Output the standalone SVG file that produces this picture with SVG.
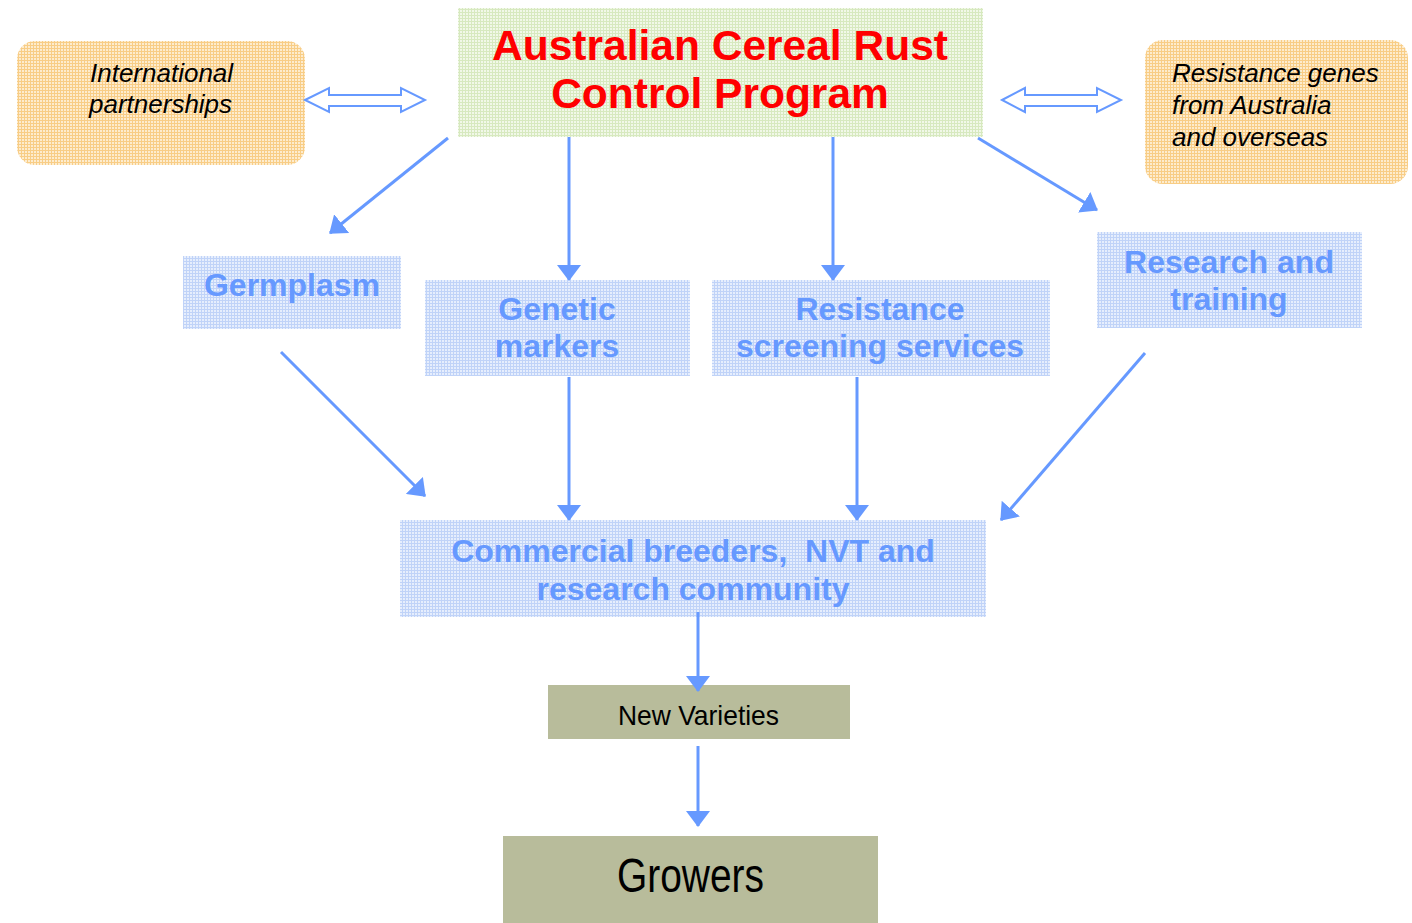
<svg xmlns="http://www.w3.org/2000/svg" width="1412" height="923" viewBox="0 0 1412 923">
<defs>
<pattern id="pBlue" width="3" height="3" patternUnits="userSpaceOnUse"><rect width="3" height="3" fill="#e6eefd"/><rect width="1" height="3" fill="#c0d3f8"/><rect width="3" height="1" fill="#c0d3f8"/></pattern>
<pattern id="pGreen" width="3" height="3" patternUnits="userSpaceOnUse"><rect width="3" height="3" fill="#f1f8e8"/><rect width="1" height="3" fill="#d7e9bf"/><rect width="3" height="1" fill="#d7e9bf"/></pattern>
<pattern id="pOrange" width="3" height="3" patternUnits="userSpaceOnUse"><rect width="3" height="3" fill="#fdecce"/><rect width="1" height="3" fill="#f8cd86"/><rect width="3" height="1" fill="#f8cd86"/></pattern>
<marker id="ah" viewBox="0 0 16 24" refX="15" refY="12" markerWidth="16" markerHeight="24" markerUnits="userSpaceOnUse" orient="auto"><path d="M0,0 L16,12 L0,24 z" fill="#6699ff"/></marker>
</defs>
<style>
.conn{stroke:#6699ff;stroke-width:3;fill:none;marker-end:url(#ah)}
.dbl{stroke:#6699ff;stroke-width:2;fill:#fff}
.bt{font-family:"Liberation Sans",Arial,sans-serif;font-weight:bold;font-size:32px;fill:#6699ff;text-anchor:middle}
.it{font-family:"Liberation Sans",Arial,sans-serif;font-style:italic;font-size:26px;fill:#000}
.title{font-family:"Liberation Sans",Arial,sans-serif;font-weight:bold;font-size:42.5px;fill:#ff0000;text-anchor:middle}
.olive{fill:#b8bc9b}
.nar{font-family:"Liberation Sans",Arial,sans-serif;fill:#000;text-anchor:middle}
</style>
<rect width="1412" height="923" fill="#fff"/>

<g id="intl">
<rect x="17" y="41" width="288" height="124" rx="18" fill="url(#pOrange)"/>
<text class="it" x="90" y="82">International</text>
<text class="it" x="89" y="113">partnerships</text>
</g>

<g id="genes">
<rect x="1145" y="40" width="263" height="144" rx="18" fill="url(#pOrange)"/>
<text class="it" x="1172" y="82">Resistance genes</text>
<text class="it" x="1172" y="114">from Australia</text>
<text class="it" x="1172" y="146">and overseas</text>
</g>

<g id="acrcp">
<rect x="458" y="8" width="525" height="129" fill="url(#pGreen)"/>
<text class="title" x="720" y="60">Australian Cereal Rust</text>
<text class="title" x="720" y="108">Control Program</text>
</g>

<g id="germplasm">
<rect x="183" y="256" width="218" height="73" fill="url(#pBlue)"/>
<text class="bt" x="292" y="296">Germplasm</text>
</g>

<g id="markers">
<rect x="425" y="280" width="265" height="96" fill="url(#pBlue)"/>
<text class="bt" x="557" y="320">Genetic</text>
<text class="bt" x="557" y="357">markers</text>
</g>

<g id="screening">
<rect x="712" y="280" width="338" height="96" fill="url(#pBlue)"/>
<text class="bt" x="880" y="320">Resistance</text>
<text class="bt" x="880" y="357">screening services</text>
</g>

<g id="research">
<rect x="1097" y="232" width="265" height="96" fill="url(#pBlue)"/>
<text class="bt" x="1229" y="273">Research and</text>
<text class="bt" x="1229" y="310">training</text>
</g>

<g id="breeders">
<rect x="400" y="520" width="586" height="97" fill="url(#pBlue)"/>
<text class="bt" x="693" y="562" xml:space="preserve">Commercial breeders,  NVT and</text>
<text class="bt" x="693" y="600">research community</text>
</g>

<g id="varieties">
<rect class="olive" x="548" y="685" width="302" height="54"/>
<text class="nar" x="698.5" y="725" font-size="28" textLength="161" lengthAdjust="spacingAndGlyphs">New Varieties</text>
</g>

<g id="growers">
<rect class="olive" x="503" y="836" width="375" height="87"/>
<text class="nar" x="690.5" y="892" font-size="48" textLength="147" lengthAdjust="spacingAndGlyphs">Growers</text>
</g>

<g id="connectors">
<polygon class="dbl" points="305,100 329,88 329,95 401,95 401,88 425,100 401,112 401,106 329,106 329,112"/>
<polygon class="dbl" points="1002,100 1025,88 1025,95 1097,95 1097,88 1121,100 1097,112 1097,106 1025,106 1025,112"/>
<line class="conn" x1="448" y1="138" x2="330" y2="233"/>
<line class="conn" x1="569" y1="137" x2="569" y2="280"/>
<line class="conn" x1="833" y1="137" x2="833" y2="280"/>
<line class="conn" x1="978" y1="138" x2="1097" y2="210"/>
<line class="conn" x1="281" y1="352" x2="425" y2="496"/>
<line class="conn" x1="569" y1="377" x2="569" y2="520"/>
<line class="conn" x1="857" y1="377" x2="857" y2="520"/>
<line class="conn" x1="1145" y1="353" x2="1001" y2="520"/>
<line class="conn" x1="698" y1="612" x2="698" y2="691"/>
<line class="conn" x1="698" y1="746" x2="698" y2="826"/>
</g>
</svg>
